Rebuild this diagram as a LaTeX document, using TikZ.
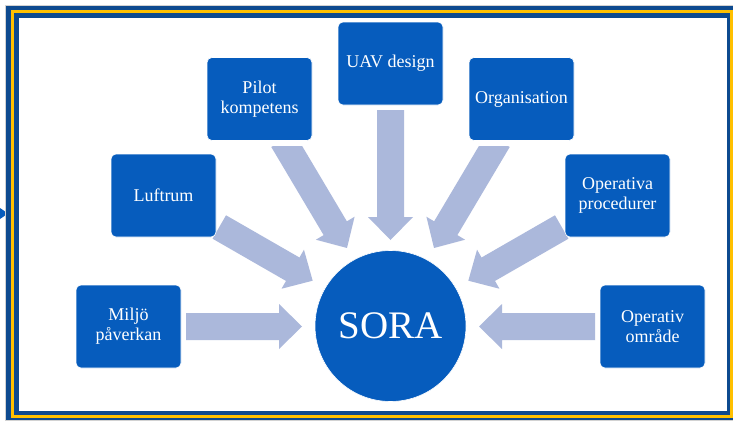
\documentclass[tikz,border=0pt]{standalone}
\usepackage{fontspec}
\setmainfont{Liberation Serif}
\newfontfamily\tnr{Liberation Serif}
\definecolor{framblue}{HTML}{0D4A8F}
\definecolor{framyellow}{HTML}{FFC000}
\definecolor{boxblue}{HTML}{065CBD}
\definecolor{arrfill}{HTML}{ABB8DB}
\tikzset{
  box/.style={draw=white, line width=0.6pt, fill=boxblue, rounded corners=5pt,
    minimum width=105pt, minimum height=83pt, inner sep=0pt, align=center,
    text=white, font=\tnr\fontsize{18}{20}\selectfont},
  hub/.style={circle, fill=boxblue, draw=white, line width=0.6pt, minimum size=151pt,
    inner sep=0pt, text=white, font=\tnr\fontsize{39}{40}\selectfont},
  arrowfill/.style={fill=arrfill}
}
\newcommand\blockarrow[2]{%
  \pgfpointdiff{\pgfpointanchor{#1}{center}}{\pgfpointanchor{#2}{center}}%
  \pgfgetlastxy{\ax}{\ay}%
  \pgfmathsetmacro\arrlen{veclen(\ax,\ay)}%
  \pgfmathsetmacro\arrbase{\arrlen-23}%
  \pgfmathsetmacro\arrang{atan2(\ay,\ax)}%
  \begin{scope}[shift={(#1)},rotate=\arrang]
    \fill[arrowfill] (0pt,13.5pt) -- (\arrbase pt,13.5pt) -- (\arrbase pt,22.5pt)
      -- (\arrlen pt,0pt) -- (\arrbase pt,-22.5pt) -- (\arrbase pt,-13.5pt)
      -- (0pt,-13.5pt) -- cycle;
  \end{scope}}
\begin{document}
\begin{tikzpicture}[x=1pt,y=-1pt]
\useasboundingbox (0,0) rectangle (733,423);
% small arrow tip at the left edge
\fill[boxblue] (0,208) -- (8,213.5) -- (0,219) -- cycle;
% frame
\fill[framblue, draw=gray!35, line width=0.5pt] (5,5) rectangle (733,420.5);
\draw[framyellow, line width=3pt] (12.5,11.5) rectangle (731.5,416.5);
\fill[framblue] (14,13) rectangle (730,415);
\fill[white] (19,18) rectangle (726.5,411);
% connector end points
\coordinate (tM) at (186,326.5);   \coordinate (hM) at (302,326.5);
\coordinate (tL) at (219.3,227);   \coordinate (hL) at (312.7,280.7);
\coordinate (tP) at (282.9,140.1); \coordinate (hP) at (347,248);
\coordinate (tU) at (390.5,110);   \coordinate (hU) at (390.5,240);
\coordinate (tOr) at (498.1,140.1);\coordinate (hOr) at (434,248);
\coordinate (tOp) at (561.7,227);  \coordinate (hOp) at (468.3,280.7);
\coordinate (tOo) at (595,326.5);  \coordinate (hOo) at (479,326.5);
\blockarrow{tM}{hM}
\blockarrow{tL}{hL}
\begin{scope}
  \clip (0,146.5) rectangle (733,423);
  \blockarrow{tP}{hP}
  \blockarrow{tOr}{hOr}
\end{scope}
\blockarrow{tU}{hU}
\blockarrow{tOp}{hOp}
\blockarrow{tOo}{hOo}
% nodes
\node[hub] (sora) at (390.5,326) {SORA};
\node[box] (miljo) at (128.5,326.5) {Miljö\\påverkan};
\node[box] (luft) at (163.5,195.5) {Luftrum};
\node[box] (pilot) at (259.5,99) {Pilot\\kompetens};
\node[box] (uav) at (390.5,63.5) {UAV design};
\node[box] (org) at (521.5,99) {Organisation};
\node[box] (opproc) at (617.5,195.5) {Operativa\\procedurer};
\node[box] (opomr) at (652.5,326.5) {Operativ\\område};
\end{tikzpicture}
\end{document}
